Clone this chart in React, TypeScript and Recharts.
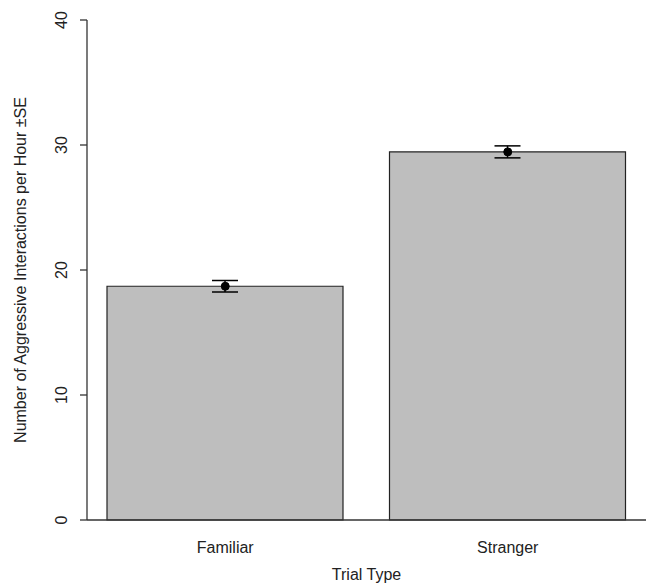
import React from 'react';
import { ComposedChart, Bar, Line, XAxis, YAxis, ErrorBar } from 'recharts';

const trialTypes = ['Familiar', 'Stranger'];
const meanRates = [18.7, 29.45];
const seValues = [0.46, 0.48];
const yTicks = [0, 10, 20, 30, 40];

const data = trialTypes.map((name, i) => ({
  name,
  value: meanRates[i],
  se: seValues[i],
}));

const FONT = '"Liberation Sans", Arial, Helvetica, sans-serif';
const INK = '#222';

// y tick labels are turned on their side, like R's default las=0
const YTick = (props: any) => {
  const { x, y, payload } = props;
  return (
    <text
      transform={`translate(${x - 17},${y}) rotate(-90)`}
      textAnchor="middle"
      dominantBaseline="central"
      fontSize={16}
      fontFamily={FONT}
      fill={INK}
    >
      {payload.value}
    </text>
  );
};

const XTick = (props: any) => {
  const { x, y, payload } = props;
  return (
    <text x={x} y={y + 33} textAnchor="middle" fontSize={16} fontFamily={FONT} fill={INK}>
      {payload.value}
    </text>
  );
};

const App: React.FC = () => {
  return (
    <div style={{ position: 'absolute', left: 0, top: 0, background: '#fff' }}>
      <ComposedChart
        width={646}
        height={585}
        data={data}
        margin={{ top: 20, right: 0, bottom: 0, left: 0 }}
      >
        <XAxis
          dataKey="name"
          height={65}
          padding={{ left: -3, right: -3 }}
          tickLine={false}
          tickSize={0}
          tickMargin={0}
          tick={<XTick />}
          axisLine={{ stroke: '#333', strokeWidth: 1.3 }}
          label={{
            content: (p: any) => {
              const vb = p.viewBox;
              return (
                <text
                  x={vb.x + vb.width / 2}
                  y={vb.y + 60}
                  textAnchor="middle"
                  fontSize={16}
                  fontFamily={FONT}
                  fill={INK}
                >
                  Trial Type
                </text>
              );
            },
          }}
        />
        <YAxis
          width={87}
          domain={[0, 40]}
          ticks={yTicks}
          tickSize={7}
          tickMargin={2}
          tick={<YTick />}
          tickLine={{ stroke: '#333', strokeWidth: 1.3 }}
          axisLine={{ stroke: '#333', strokeWidth: 1.3 }}
          label={{
            content: () => (
              <text
                transform="translate(20,270) rotate(-90)"
                textAnchor="middle"
                dominantBaseline="central"
                fontSize={16}
                fontFamily={FONT}
                fill={INK}
              >
                Number of Aggressive Interactions per Hour ±SE
              </text>
            ),
          }}
        />
        <Bar
          dataKey="value"
          barSize={236}
          fill="#BEBEBE"
          stroke="#222"
          strokeWidth={1.2}
          isAnimationActive={false}
        >
          <ErrorBar dataKey="se" width={13} stroke="#000" strokeWidth={1.5} />
        </Bar>
        <Line
          dataKey="value"
          stroke="none"
          dot={{ r: 4, fill: '#000', stroke: '#000' }}
          activeDot={false}
          isAnimationActive={false}
        />
      </ComposedChart>
    </div>
  );
};

export default App;
